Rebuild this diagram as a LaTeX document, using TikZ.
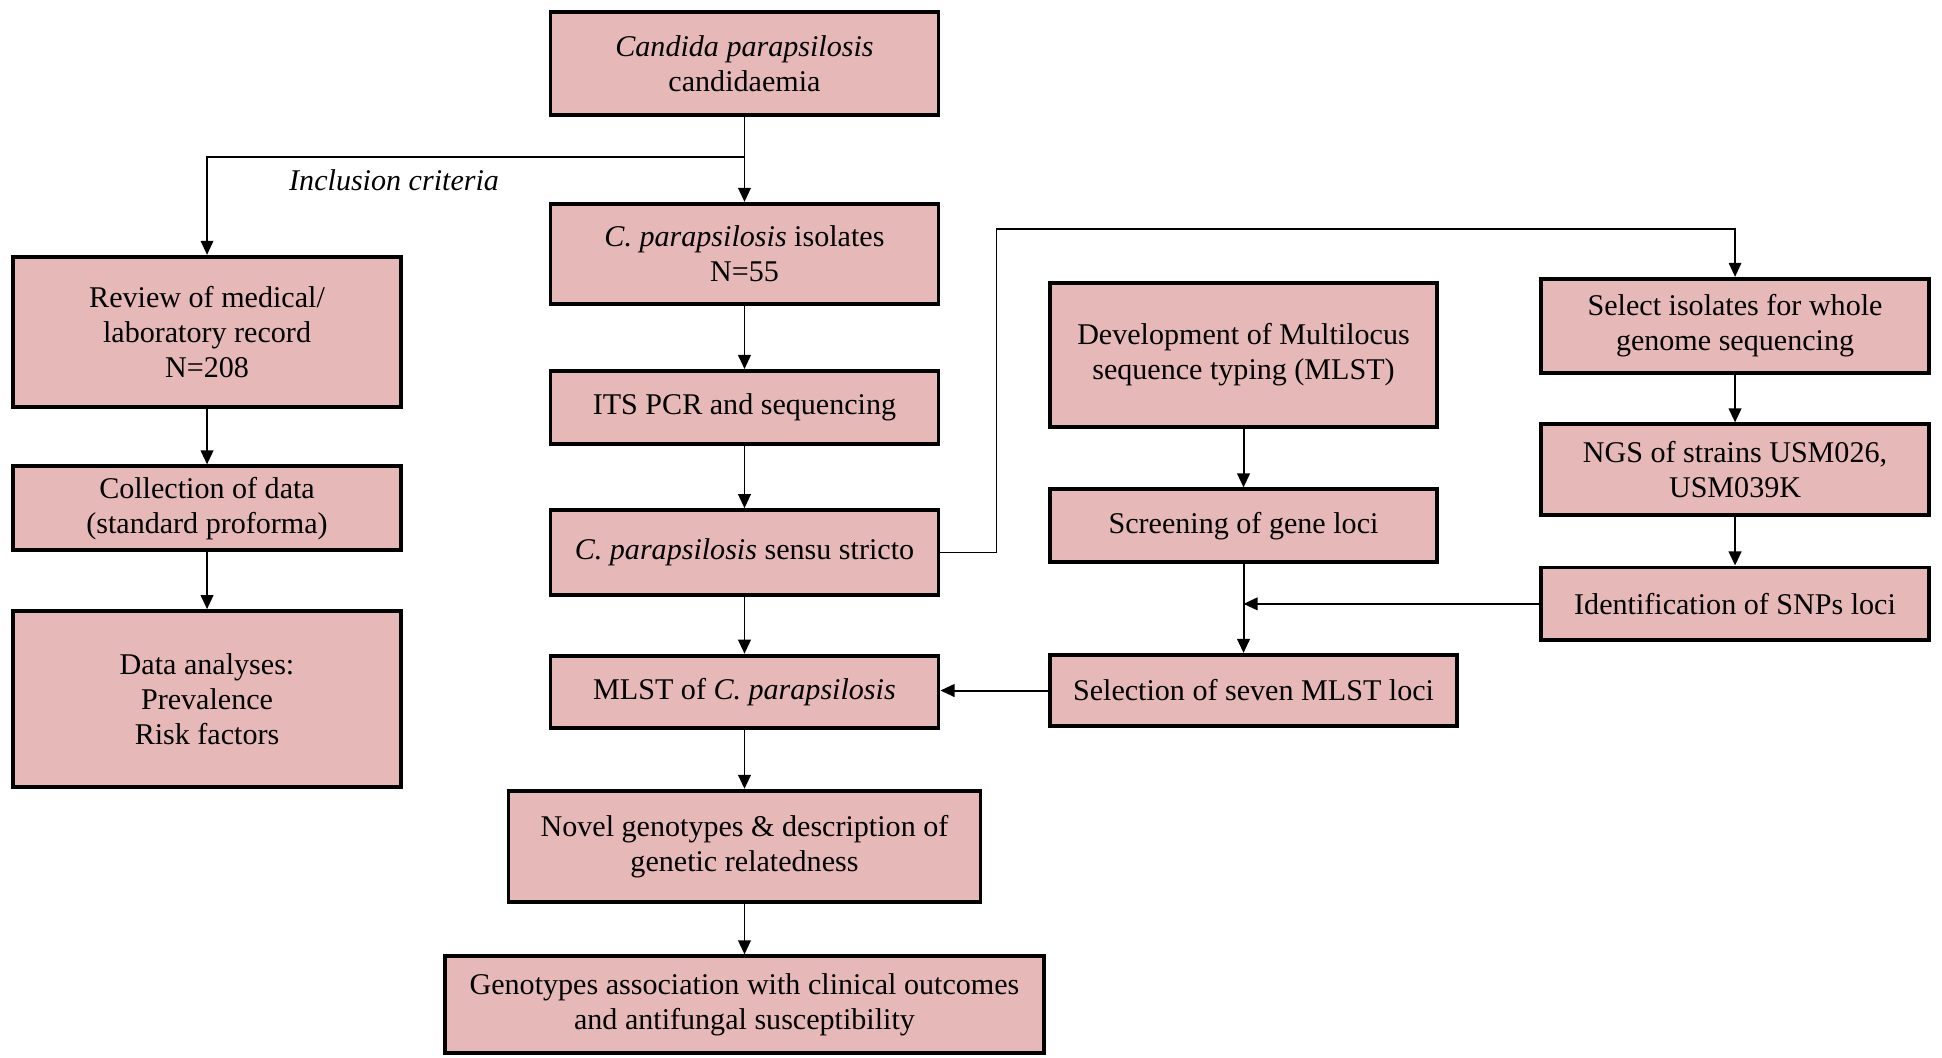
\documentclass[tikz,border=0pt]{standalone}
\usepackage{fontspec}
\setmainfont{Liberation Serif}
\usetikzlibrary{
  arrows.meta,
  calc,
  positioning,
}
\definecolor{boxpink}{RGB}{230,184,183}
\tikzset{
  >={Triangle[length=5pt,width=4.5pt]},
  box/.style={draw, line width=1.4pt, fill=boxpink, align=center,
    minimum width=4.85cm, font=\fontsize{10.7pt}{12.4pt}\selectfont},
  flow/.style={->, line width=0.7pt},
  link/.style={->, line width=0.5pt},
  lbl/.style={font=\fontsize{10.7pt}{12.4pt}\selectfont\itshape},
}

\begin{document}
\begin{tikzpicture}
      \useasboundingbox (0,0) rectangle (24.275,-13.225);
      % middle column
      \node [box, minimum height=1.29cm] (cand) at (9.306,-0.794) {\textit{Candida parapsilosis}\\candidaemia};
      \node [box, minimum height=1.25cm, below=1.06cm of cand] (iso) {\textit{C. parapsilosis} isolates\\N=55};
      \node [box, minimum height=0.91cm, below=0.79cm of iso] (its) {ITS PCR and sequencing};
      \node [box, minimum height=1.06cm, below=0.78cm of its] (sss) {\textit{C. parapsilosis} sensu stricto};
      \node [box, minimum height=0.90cm, below=0.71cm of sss] (mlst) {MLST of \textit{C. parapsilosis}};
      \node [box, minimum width=5.90cm, minimum height=1.39cm, below=0.74cm of mlst] (novel) {Novel genotypes \& description of\\genetic relatedness};
      \node [box, minimum width=7.48cm, minimum height=1.21cm, below=0.63cm of novel] (assoc) {Genotypes association with clinical outcomes\\and antifungal susceptibility};
      % left column
      \node [box, minimum height=1.88cm] (rev) at (2.588,-4.15) {Review of medical/\\laboratory record\\N=208};
      \node [box, minimum height=1.05cm, below=0.69cm of rev] (coll) {Collection of data\\(standard proforma)};
      \node [box, minimum height=2.20cm, below=0.71cm of coll] (anal) {Data analyses:\\Prevalence\\Risk factors};
      % MLST development
      \node [box, minimum width=4.84cm, minimum height=1.80cm] (dev) at (15.544,-4.438) {Development of Multilocus\\sequence typing (MLST)};
      \node [box, minimum width=4.84cm, minimum height=0.91cm, below=0.73cm of dev] (scr) {Screening of gene loci};
      \node [box, minimum width=5.09cm, minimum height=0.89cm, below=1.11cm of scr.south west, anchor=north west] (sel) {Selection of seven MLST loci};
      % whole genome sequencing
      \node [box, minimum height=1.18cm] (wgs) at (21.688,-4.075) {Select isolates for whole\\genome sequencing};
      \node [box, minimum height=1.13cm, below=0.59cm of wgs] (ngs) {NGS of strains USM026,\\USM039K};
      \node [box, minimum height=0.91cm, below=0.61cm of ngs] (snp) {Identification of SNPs loci};
      \coordinate (incl) at ($(cand.south)+(0,-0.5)$);
      \coordinate (wgsin) at ($(wgs.north)+(0,0.6)$);
      \node [lbl] (incllbl) at ($(incl)+(-4.38,-0.29)$) {Inclusion criteria};
      \draw [flow] (cand) -- (iso);
      \draw [link] (incl) -| (rev.north);
      \draw [flow] (iso) -- (its);
      \draw [flow] (its) -- (sss);
      \draw [flow] (sss) -- (mlst);
      \draw [flow] (mlst) -- (novel);
      \draw [flow] (novel) -- (assoc);
      \draw [flow] (rev) -- (coll);
      \draw [flow] (coll) -- (anal);
      \draw [link] (sss.east) -- ++(0.7,0) |- (wgsin) -- (wgs.north);
      \draw [flow] (wgs) -- (ngs);
      \draw [flow] (ngs) -- (snp);
      \draw [flow] (dev) -- (scr);
      \draw [flow] (scr.south) -- (scr.south |- sel.north);
      \draw [flow] (snp.west) -- (snp.west -| scr.south);
      \draw [flow] (sel.west) -- (sel.west -| mlst.east);
    \end{tikzpicture}
\end{document}
